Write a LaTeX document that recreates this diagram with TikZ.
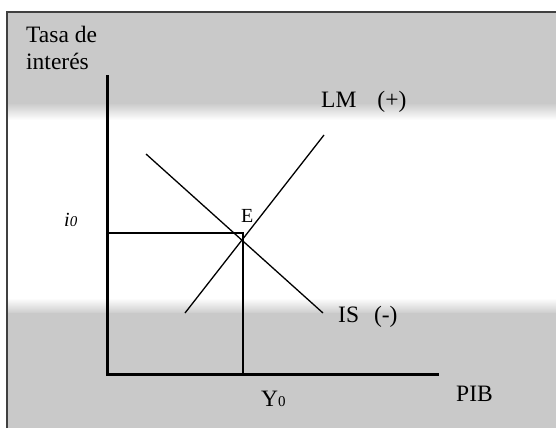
\documentclass[tikz,border=0pt]{standalone}
\usepackage{fontspec}
\setmainfont{Liberation Serif}
\usetikzlibrary{positioning}

\colorlet{bandgray}{black!21}
\tikzset{
  axis/.style={line width=3pt},
  curve/.style={line width=1.3pt},
  guide/.style={line width=1.3pt},
  frameline/.style={line width=1.8pt, black!75},
  lbl/.style={inner sep=0pt, anchor=base west, font=\fontsize{23.5}{28}\selectfont},
  small/.style={inner sep=0pt, anchor=base west, font=\fontsize{20}{24}\selectfont},
}

\begin{document}
\begin{tikzpicture}[x=1pt,y=-1pt]
  \useasboundingbox (0,0) rectangle (556,428);

  % Background bands
  \fill[white] (0,0) rectangle (556,428);
  \fill[bandgray] (7,12) rectangle (556,104);
  \shade[top color=bandgray, bottom color=white] (7,103) rectangle (556,120);
  \shade[top color=white, bottom color=bandgray] (7,298) rectangle (556,314);
  \fill[bandgray] (7,313) rectangle (556,428);

  % Frame
  \draw[frameline] (7,428) -- (7,12) -- (556,12);

  % Key points
  \coordinate (ytop) at (107,75);
  \coordinate (O) at (107,374);
  \coordinate (xend) at (439,374);
  \coordinate (E) at (243,233);
  \coordinate (iax) at (107,233);
  \coordinate (Yax) at (243,374);
  \coordinate (LMlow) at (185,313);
  \coordinate (LMhigh) at (324,135);
  \coordinate (ISlow) at (146,154);
  \coordinate (IShigh) at (323,313);

  % Axes
  \draw[axis] (ytop) -- (O) -- (xend);

  % Equilibrium guides
  \draw[guide] (iax) -- (E) -- (Yax);

  % LM and IS curves
  \draw[curve] (LMlow) -- (LMhigh);
  \draw[curve] (ISlow) -- (IShigh);

  % Labels
  \node[lbl] (tasa) at (26,43) {Tasa de};
  \node[lbl] (interes) at (26,69) {interés};
  \node[lbl] (lm) at (321,107) {LM\hspace{21pt}(+)};
  \node[lbl] (is) at (338,322) {IS\hspace{15pt}(-)};
  \node[lbl] (pib) at (456,401) {PIB};
  \node[small] (elbl) at (241,222) {E};
  \node[small] (ilbl) at (64,226) {\textit{i}{\fontsize{15}{15}\selectfont\textit{0}}};
  \node[lbl] (ylbl) at (261,406) {Y{\fontsize{15}{15}\selectfont 0}};
\end{tikzpicture}
\end{document}
